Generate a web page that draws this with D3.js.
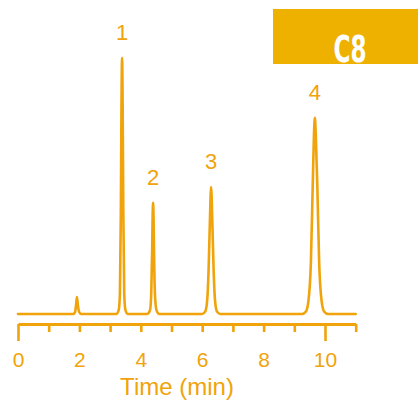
<!DOCTYPE html>
<html><head><meta charset="utf-8">
<script src="https://cdn.jsdelivr.net/npm/d3@7"></script>
<style>
html,body{margin:0;padding:0;background:#fff;}
svg{display:block;}
</style></head>
<body>
<script>
// Trace samples: time (min) and detector signal (relative units)
const traceTime = [0, 1.80, 1.86, 1.89, 1.92, 1.95, 1.99, 2.06,
  3.20, 3.28, 3.32, 3.35, 3.37, 3.39, 3.41, 3.43, 3.46, 3.50, 3.58,
  4.20, 4.30, 4.34, 4.37, 4.385, 4.40, 4.415, 4.43, 4.46, 4.51, 4.60,
  6.00, 6.10, 6.16, 6.21, 6.25, 6.29, 6.33, 6.37, 6.42, 6.48, 6.58,
  9.25, 9.38, 9.46, 9.54, 9.60, 9.64, 9.67, 9.70, 9.75, 9.81, 9.89, 9.97, 10.10,
  11];
const traceSignal = [0, 0, 0.8, 3.5, 6.6, 3.5, 0.8, 0,
  0, 1.5, 8, 40, 80, 100, 80, 40, 8, 1.5, 0,
  0, 1.5, 8, 25, 38, 43.4, 38, 25, 8, 1.5, 0,
  0, 1, 5, 18, 36, 49.6, 36, 18, 5, 1, 0,
  0, 1, 5, 20, 50, 70, 76.6, 70, 50, 20, 5, 1, 0,
  0];
const peakLabels = ["1", "2", "3", "4"];
const peakTimes = [3.39, 4.40, 6.29, 9.67];
const peakHeights = [100, 43.4, 49.6, 76.6];
const tickValues = [0,1,2,3,4,5,6,7,8,9,10,11];
const tickLabels = [0,2,4,6,8,10];
const longTicks = [0,10];
const phaseLabel = "C8";
const xTitle = "Time (min)";

const W = 418, H = 402;
const orange = "#F0A30A";
const bannerColor = "#EEB100";

const svg = d3.select("body").append("svg").attr("width", W).attr("height", H);

const x = d3.scaleLinear().domain([0, 11]).range([18, 355.7]);
const y = d3.scaleLinear().domain([0, 100]).range([314, 58]);

// banner
svg.append("rect").attr("x", 273).attr("y", 9).attr("width", W - 273).attr("height", 55)
  .attr("fill", bannerColor);
svg.append("text").attr("x", 350).attr("y", 62).attr("text-anchor", "middle")
  .attr("font-family", "DejaVu Sans Condensed, DejaVu Sans")
  .attr("font-weight", "bold").attr("font-size", 37)
  .attr("textLength", 33).attr("lengthAdjust", "spacingAndGlyphs")
  .attr("fill", "#fff").text(phaseLabel);

// trace
const pts = traceTime.map((t, i) => [t, traceSignal[i]]);
const line = d3.line().x(d => x(d[0])).y(d => y(d[1])).curve(d3.curveMonotoneX);
svg.append("path").datum(pts).attr("d", line)
  .attr("fill", "none").attr("stroke", orange).attr("stroke-width", 2.6)
  .attr("stroke-linejoin", "round").attr("stroke-linecap", "round");

// peak labels
svg.selectAll("text.pk").data(peakLabels).join("text").attr("class", "pk")
  .attr("x", (d, i) => x(peakTimes[i]))
  .attr("y", (d, i) => y(peakHeights[i]) - 18)
  .attr("text-anchor", "middle")
  .attr("font-family", "Liberation Sans, Arial, sans-serif")
  .attr("font-size", 22).attr("fill", orange).text(d => d);

// axis
const axisY = 324;
const axis = d3.axisBottom(x).tickValues(tickValues).tickSize(8).tickSizeOuter(0)
  .tickFormat(d => tickLabels.includes(d) ? d : "").tickPadding(0);
const g = svg.append("g").attr("transform", `translate(0,${axisY})`).call(axis);
g.select(".domain").attr("stroke", orange).attr("stroke-width", 3);
g.selectAll(".tick line").attr("stroke", orange).attr("stroke-width", 2.6)
  .attr("y2", d => longTicks.includes(d) ? 17 : 8);
g.selectAll(".tick text").attr("fill", orange)
  .attr("font-family", "Liberation Sans, Arial, sans-serif")
  .attr("font-size", 21).attr("dy", 0).attr("y", 43);

svg.append("text").attr("x", 177).attr("y", 395).attr("text-anchor", "middle")
  .attr("font-family", "Liberation Sans, Arial, sans-serif")
  .attr("font-size", 24).attr("fill", orange).text(xTitle);
</script>
</body></html>
